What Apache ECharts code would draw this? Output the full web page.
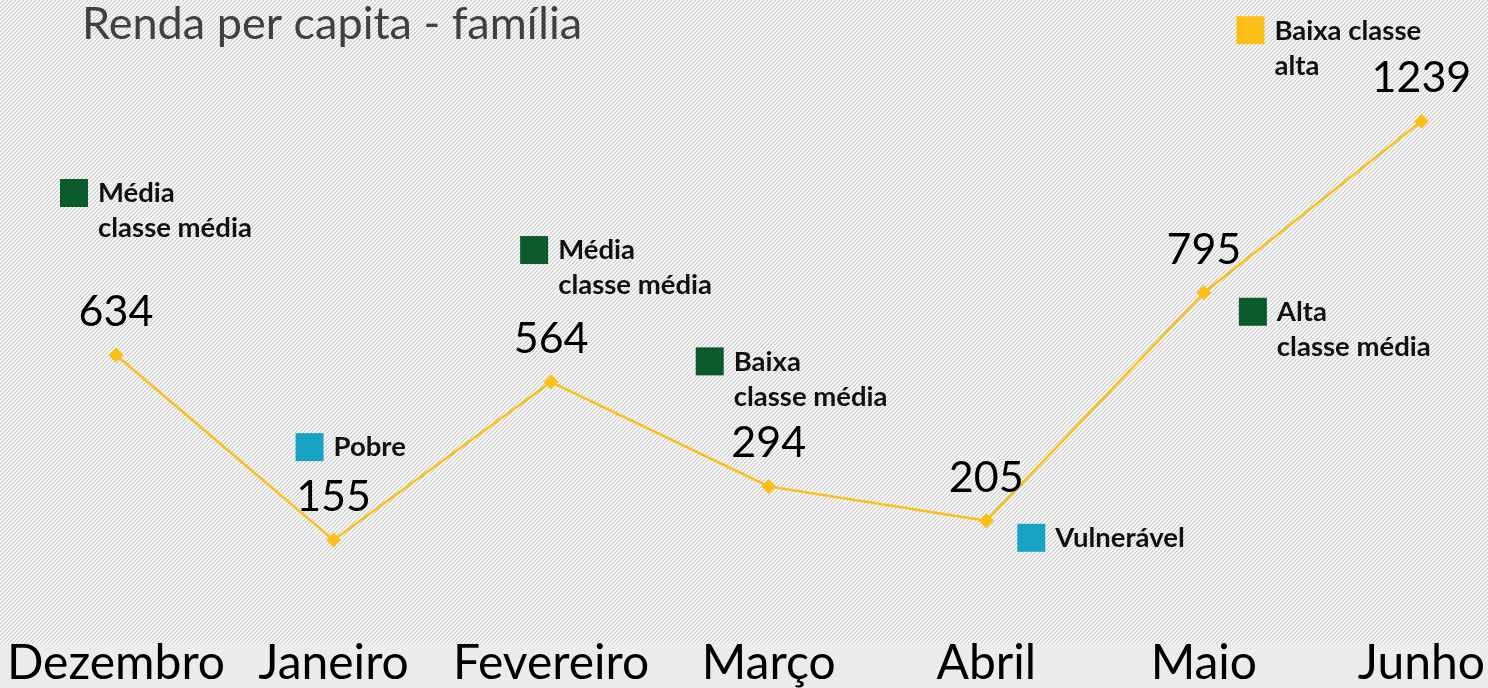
<!DOCTYPE html>
<html>
<head>
<meta charset="utf-8">
<script src="https://cdn.jsdelivr.net/npm/echarts@6.0.0/dist/echarts.min.js"></script>
<style>
html,body{margin:0;padding:0;background:#fff;}
#chart{width:1488px;height:688px;
background-color:#fff;
background-image:
 linear-gradient(to bottom, rgba(238,238,238,0) 0, rgba(238,238,238,0) 644px, rgba(236,236,236,0.85) 644px),
 url("data:image/svg+xml;utf8,<svg xmlns='http://www.w3.org/2000/svg' width='4' height='4'><path d='M-1,1 L1,-1 M0,4 L4,0 M3,5 L5,3' stroke='%23c4c4c4' stroke-width='1.1'/></svg>");
background-repeat: no-repeat, repeat;
background-size: 100% 100%, 4px 4px;}
</style>
</head>
<body>
<div id="chart"></div>
<script>
// ---- data ----
const categories = ['Dezembro', 'Janeiro', 'Fevereiro', 'Março', 'Abril', 'Maio', 'Junho'];
const values = [634, 155, 564, 294, 205, 795, 1239];
const classLabels = ['Média\nclasse média', 'Pobre', 'Média\nclasse média', 'Baixa\nclasse média', 'Vulnerável', 'Alta\nclasse média', 'Baixa classe\nalta'];
const classGroup = ['media', 'pobre', 'media', 'media', 'pobre', 'media', 'alta'];
const titleText = 'Renda per capita - família';

// ---- styling ----
const groupColors = { media: '#0B5A2B', pobre: '#17A3C1', alta: '#FBBF17' };
const annotationOffsets = [[-42, -162], [-24, -93], [-17, -132], [-59, -125], [45, 17], [49, 19], [-171, -91]];
const FONT = 'Lato, "Noto Sans", sans-serif';

const chart = echarts.init(document.getElementById('chart'), null, { renderer: 'canvas' });

const annotationData = values.map((v, i) => ({
  value: v,
  symbolOffset: annotationOffsets[i],
  itemStyle: { color: groupColors[classGroup[i]], opacity: 1 },
  label: { formatter: classLabels[i] }
}));

chart.setOption({
  backgroundColor: 'transparent',
  animation: false,
  title: {
    text: titleText,
    left: 77, top: -3,
    textStyle: { fontFamily: FONT, fontSize: 45, fontWeight: 'normal', color: '#404040' }
  },
  grid: { left: 116, right: 63, top: 59, bottom: 88, containLabel: false },
  xAxis: {
    type: 'category',
    data: categories,
    boundaryGap: false,
    axisLine: { show: false },
    axisTick: { show: false },
    splitLine: { show: false },
    axisLabel: { fontFamily: FONT, fontSize: 48, color: '#000', margin: 40, interval: 0 }
  },
  yAxis: {
    type: 'value', min: 0, max: 1400, show: false, splitLine: { show: false }
  },
  series: [
    {
      type: 'line',
      data: values,
      symbol: 'diamond',
      symbolSize: 15,
      lineStyle: { color: '#FBBF17', width: 2.5 },
      itemStyle: { color: '#FBBF17' },
      label: { show: true, position: 'top', distance: 14, fontFamily: FONT, fontSize: 43, color: '#000' },
      z: 2
    },
    {
      type: 'scatter',
      data: annotationData,
      symbol: 'rect',
      symbolSize: 28,
      itemStyle: { opacity: 1 },
      label: {
        show: true, position: 'right', distance: 10,
        verticalAlign: 'top', align: 'left', offset: [0, -17],
        lineHeight: 35,
        fontFamily: FONT, fontSize: 27.5, fontWeight: 'bold', color: '#111'
      },
      z: 3
    }
  ]
});
</script>
</body>
</html>
